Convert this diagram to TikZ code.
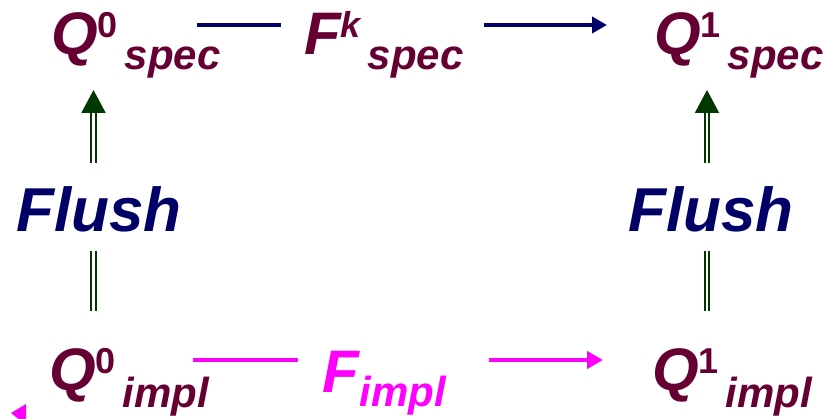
\documentclass[tikz,border=0pt]{standalone}
\usepackage{fontspec}
\setmainfont{Liberation Sans}
\usetikzlibrary{arrows.meta}
\definecolor{qmaroon}{RGB}{102,0,51}
\definecolor{specblue}{RGB}{0,0,102}
\definecolor{flushgreen}{RGB}{0,56,0}
\definecolor{implpink}{RGB}{255,0,255}
\newcommand{\qterm}[4]{\fontsize{60}{60}\selectfont #1\raisebox{17pt}{\fontsize{36}{36}\selectfont #2}\hspace{7pt}\raisebox{-#4}{\fontsize{42}{42}\selectfont #3}}

\begin{document}
\begin{tikzpicture}[x=1pt,y=1pt,
		term/.style={anchor=base west,inner sep=0pt,font=\bfseries\itshape},
		flushlbl/.style={anchor=base west,inner sep=0pt,text=specblue,font=\fontsize{62}{62}\selectfont\bfseries\itshape},
		specline/.style={draw=specblue,line width=4.5pt},
		implline/.style={draw=implpink,line width=4.5pt},
		flushline/.style={draw=flushgreen,double,double distance=2.5pt,line width=2pt}]
		\useasboundingbox (0,0) rectangle (827,418);
		
		\node[term,text=qmaroon] (q0spec) at (51,363) {\qterm{Q}{\upshape 0}{spec}{15pt}};
		\node[term,text=qmaroon] (fkspec) at (304,363) {\qterm{F}{k}{spec}{15pt}};
		\node[term,text=qmaroon] (q1spec) at (654,363) {\qterm{Q}{\upshape 1}{spec}{15pt}};
		
		\node[flushlbl] (flushl) at (16,186) {Flush};
		\node[flushlbl] (flushr) at (628,186) {Flush};
		
		\node[term,text=qmaroon] (q0impl) at (49,28) {\qterm{Q}{\upshape 0}{impl}{17pt}};
		\node[term,text=implpink] (fimpl) at (322,26) {\fontsize{60}{60}\selectfont F\hspace{1pt}\raisebox{-14pt}{\fontsize{42}{42}\selectfont impl}};
		\node[term,text=qmaroon] (q1impl) at (652,28) {\qterm{Q}{\upshape 1}{impl}{17pt}};
		
		% connector ends
		\coordinate (ts0) at (197,393);
		\coordinate (ts1) at (281,393);
		\coordinate (ts2) at (484,393);
		\coordinate (ts3) at (607,393);
		\coordinate (bi0) at (193,58);
		\coordinate (bi1) at (298,58);
		\coordinate (bi2) at (489,58);
		\coordinate (bi3) at (603,58);
		\coordinate (lf0) at (93.5,107);
		\coordinate (lf1) at (93.5,167);
		\coordinate (lf2) at (93.5,255);
		\coordinate (lf3) at (93.5,328);
		\coordinate (rf0) at (707,107);
		\coordinate (rf1) at (707,167);
		\coordinate (rf2) at (707,255);
		\coordinate (rf3) at (707,328);
		
		\draw[specline] (ts0) to (ts1);
		\draw[specline,-{Triangle[length=15pt,width=16pt]}] (ts2) to (ts3);
		\draw[implline] (bi0) to (bi1);
		\draw[implline,-{Triangle[length=16pt,width=17pt]}] (bi2) to (bi3);
		
		\draw[flushline] (lf0) to (lf1);
		\draw[flushline,-{Triangle[length=23pt,width=24pt]}] (lf2) to (lf3);
		\draw[flushline] (rf0) to (rf1);
		\draw[flushline,-{Triangle[length=23pt,width=24pt]}] (rf2) to (rf3);
		
		\fill[implpink] (11,5) -- (26,14) -- (26,-7) -- cycle;
	\end{tikzpicture}
\end{document}
